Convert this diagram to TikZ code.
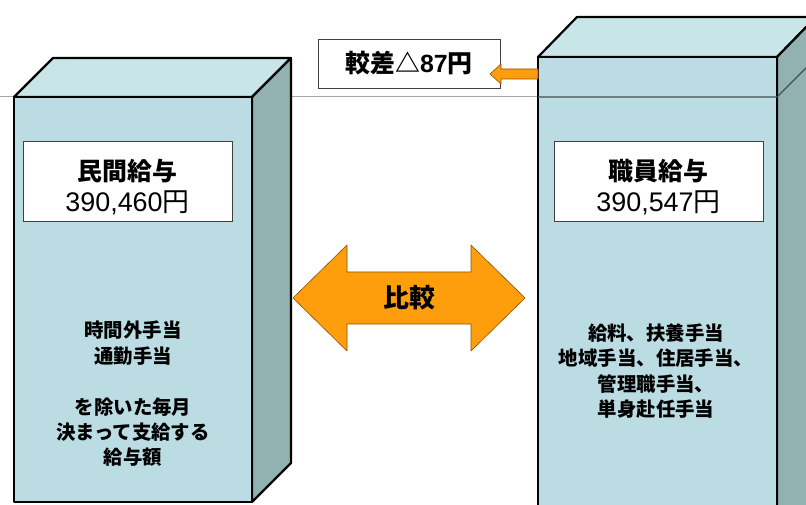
\documentclass[tikz,border=0pt]{standalone}
\usepackage{fontspec}
\setmainfont{Noto Sans CJK JP}
\newfontfamily\latinnum{Liberation Sans}
\begin{document}
\begin{tikzpicture}[x=1bp,y=-1bp,
  front/.style={fill=boxfront,draw=black,line width=2.2bp,line join=round},
  topf/.style={fill=boxtop,draw=black,line width=2.2bp,line join=round},
  sidef/.style={fill=boxside,draw=black,line width=2.2bp,line join=round},
  label/.style={draw=black!75,fill=white,line width=0.8bp,minimum width=209bp,minimum height=80bp,align=center,font=\fontsize{25}{31}\selectfont},
  body/.style={align=center,font=\bfseries\fontsize{19.5}{25.5}\selectfont},
  orange/.style={fill=orangeA,draw=orangeD,line width=0.6bp,line join=round}]
\definecolor{boxfront}{HTML}{BADCE2}
\definecolor{boxtop}{HTML}{C8E6E8}
\definecolor{boxside}{HTML}{92B2B2}
\definecolor{orangeA}{HTML}{FF9E0D}
\definecolor{orangeD}{HTML}{8A5200}
\useasboundingbox (0,0) rectangle (806,505);
\clip (0,0) rectangle (806,505);
\fill[white] (0,0) rectangle (806,505);
% level line
\draw[gray!70,line width=1bp] (0,97) -- (538,97);
% left box
\draw[topf] (14,97) -- (53,58) -- (291,58) -- (252,97) -- cycle;
\draw[sidef] (252,97) -- (291,58) -- (291,463) -- (252,502) -- cycle;
\draw[front] (14,97) rectangle (252,502);
% right box
\draw[topf] (538,57) -- (577,17) -- (816,17) -- (777,57) -- cycle;
\draw[sidef] (777,57) -- (816,17) -- (816,520) -- (777,560) -- cycle;
\draw[front] (538,57) rectangle (777,560);
\draw[black!55!boxside,line width=1.2bp] (538,97) -- (777,97) -- (816,58);
% labels
\node[label] (priv) at (127.5,181) {};
\node[font=\bfseries\fontsize{25}{30}\selectfont] (privh) at (127.5,171) {民間給与};
\node[font=\fontsize{27}{30}\selectfont] (privn) at (127.5,203) {{\latinnum 390,460}円};
\node[label] (staff) at (658.5,181) {};
\node[font=\bfseries\fontsize{25}{30}\selectfont] (staffh) at (658.5,171) {職員給与};
\node[font=\fontsize{27}{30}\selectfont] (staffn) at (658.5,203) {{\latinnum 390,547}円};
% body texts
\node[body] (privtxt) at (133,394) {時間外手当\\通勤手当\\[25.5bp]を除いた毎月\\決まって支給する\\給与額};
\node[body] (stafftxt) at (656,371) {給料、扶養手当\\地域手当、住居手当、\\管理職手当、\\単身赴任手当};
% difference callout
\node[draw=black!75,fill=white,line width=0.8bp,minimum width=182bp,minimum height=49bp,font=\bfseries\fontsize{25}{28}\selectfont] (diff) at (409,63.5) {較差△{\latinnum\bfseries 87}円};
\coordinate (arrstart) at (538,74);
\draw[orange] (arrstart) ++(0,-5) -- (501,69) -- (501,64) -- (490,74) -- (501,84) -- (501,79) -- (538,79) -- cycle;
% double arrow
\draw[orange] (293,298) -- (347,245) -- (347,272) -- (471,272) -- (471,245) -- (525,298) -- (471,351) -- (471,324) -- (347,324) -- (347,351) -- cycle;
\node[font=\bfseries\fontsize{26}{30}\selectfont] (cmp) at (409,298) {比較};
\end{tikzpicture}
\end{document}
